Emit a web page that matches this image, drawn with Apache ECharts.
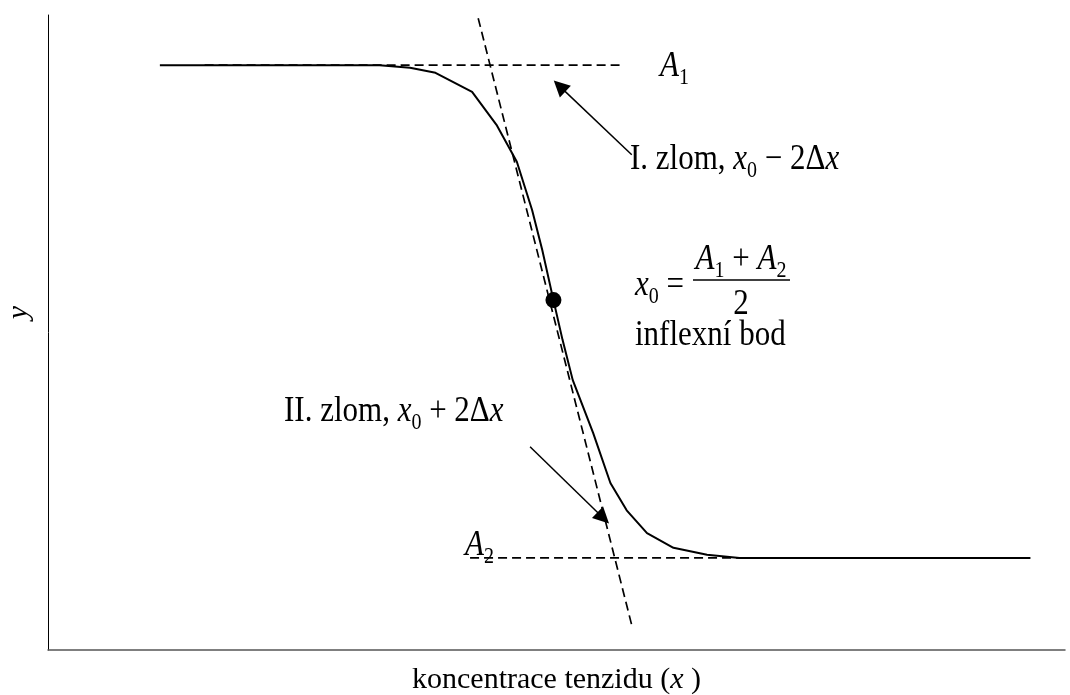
<!DOCTYPE html>
<html>
<head>
<meta charset="utf-8">
<script src="https://cdn.jsdelivr.net/npm/echarts@6/dist/echarts.min.js"></script>
<style>
  html, body { margin: 0; padding: 0; background: #fff; }
  #main { width: 1070px; height: 695px; }
</style>
</head>
<body>
<div id="main"></div>
<script>
// krivka (koncentrace vs. y)
var curveX = [1.10, 1.99, 3.26, 3.56, 3.81, 4.17, 4.41, 4.61, 4.76, 4.86, 4.97, 5.06, 5.16, 5.36, 5.53, 5.69, 5.89, 6.15, 6.48, 6.80, 8.38, 9.66];
var curveY = [9.21, 9.21, 9.21, 9.17, 9.09, 8.79, 8.27, 7.69, 6.93, 6.30, 5.51, 4.88, 4.25, 3.42, 2.63, 2.20, 1.84, 1.61, 1.50, 1.45, 1.45, 1.45];

// tecna v inflexnim bode
var tangentX = [4.23, 5.74];
var tangentY = [9.95, 0.39];

// asymptoty A1 a A2
var a1X = [1.54, 5.62];
var a1Y = [9.21, 9.21];
var a2X = [4.15, 8.43];
var a2Y = [1.45, 1.45];

// inflexni bod
var inflX = [4.97];
var inflY = [5.51];

// sipky [odkud, kam]
var arrow1 = [[5.74, 7.80], [5.03, 8.88]];
var arrow2 = [[4.74, 3.20], [5.46, 2.08]];

var zip = function (xs, ys) {
    var out = [];
    for (var i = 0; i < xs.length; i++) out.push([xs[i], ys[i]]);
    return out;
};

var FONT = '"Liberation Serif", "DejaVu Serif", serif';
var rich = {
    t: { fontFamily: FONT, fontSize: 31, color: '#000', lineHeight: 36 },
    i: { fontFamily: FONT, fontSize: 31, fontStyle: 'italic', color: '#000', lineHeight: 36 },
    s: { fontFamily: FONT, fontSize: 20, color: '#000', lineHeight: 20, padding: [19, 0, 0, 0] }
};
var axisRich = {
    t: { fontFamily: FONT, fontSize: 30, color: '#000', lineHeight: 34 },
    i: { fontFamily: FONT, fontSize: 30, fontStyle: 'italic', color: '#000', lineHeight: 34 }
};

var dashed = { color: '#000', width: 1.7, type: [9, 5] };

var myChart = echarts.init(document.getElementById('main'));

// text v rovine grafu, y = stred radku
var txt = function (x, y, text, align) {
    return {
        type: 'text',
        x: x,
        y: y,
        scaleY: 1.15,
        silent: true,
        style: {
            text: text,
            rich: rich,
            align: align || 'left',
            verticalAlign: 'middle'
        }
    };
};

var option = {
    animation: false,
    backgroundColor: '#fff',
    grid: { left: 48, right: 5, top: 15, bottom: 45, outerBoundsMode: 'none', containLabel: false },
    xAxis: {
        type: 'value',
        min: 0,
        max: 10,
        name: '{t|koncentrace tenzidu (}{i|x}{t| )}',
        nameLocation: 'middle',
        nameGap: 13,
        nameTextStyle: { rich: axisRich },
        axisLine: { onZero: false, lineStyle: { color: '#555', width: 1.5 } },
        axisTick: { show: false },
        axisLabel: { show: false },
        splitLine: { show: false }
    },
    yAxis: {
        type: 'value',
        min: 0,
        max: 10,
        name: '{i|y}',
        nameLocation: 'middle',
        nameGap: 12,
        nameRotate: 90,
        nameTextStyle: { rich: axisRich, padding: [0, 0, 0, 40] },
        axisLine: { show: true, onZero: false, lineStyle: { color: '#000', width: 1 } },
        axisTick: { show: false },
        axisLabel: { show: false },
        splitLine: { show: false }
    },
    series: [
        {
            name: 'A1',
            type: 'line',
            data: zip(a1X, a1Y),
            symbol: 'none',
            lineStyle: dashed,
            silent: true
        },
        {
            name: 'A2',
            type: 'line',
            data: zip(a2X, a2Y),
            symbol: 'none',
            lineStyle: dashed,
            silent: true
        },
        {
            name: 'tecna',
            type: 'line',
            data: zip(tangentX, tangentY),
            symbol: 'none',
            lineStyle: dashed,
            silent: true
        },
        {
            name: 'krivka',
            type: 'line',
            data: zip(curveX, curveY),
            symbol: 'none',
            lineStyle: { color: '#000', width: 2 },
            silent: true,
            markLine: {
                silent: true,
                symbol: ['none', 'triangle'],
                symbolSize: 16,
                label: { show: false },
                lineStyle: { color: '#000', width: 1.5, type: 'solid' },
                data: [
                    [{ coord: arrow1[0] }, { coord: arrow1[1] }],
                    [{ coord: arrow2[0] }, { coord: arrow2[1] }]
                ]
            }
        },
        {
            name: 'inflexni bod',
            type: 'scatter',
            data: zip(inflX, inflY),
            symbolSize: 16,
            itemStyle: { color: '#000', opacity: 1 },
            silent: true
        }
    ],
    graphic: [
        txt(660, 67, '{i|A}{s|1}'),
        txt(630, 160, '{t|I. zlom, }{i|x}{s|0}{t| − 2Δ}{i|x}'),
        txt(635, 286, '{i|x}{s|0}{t| =}'),
        txt(741, 260, '{i|A}{s|1}{t| + }{i|A}{s|2}', 'center'),
        txt(741, 305, '{t|2}', 'center'),
        {
            type: 'line',
            silent: true,
            shape: { x1: 693, y1: 280, x2: 790, y2: 280 },
            style: { stroke: '#000', lineWidth: 1.5 }
        },
        txt(635, 336, '{t|inflexní bod}'),
        txt(284, 412, '{t|II. zlom, }{i|x}{s|0}{t| + 2Δ}{i|x}'),
        txt(465, 546, '{i|A}{s|2}')
    ]
};

myChart.setOption(option);
</script>
</body>
</html>
